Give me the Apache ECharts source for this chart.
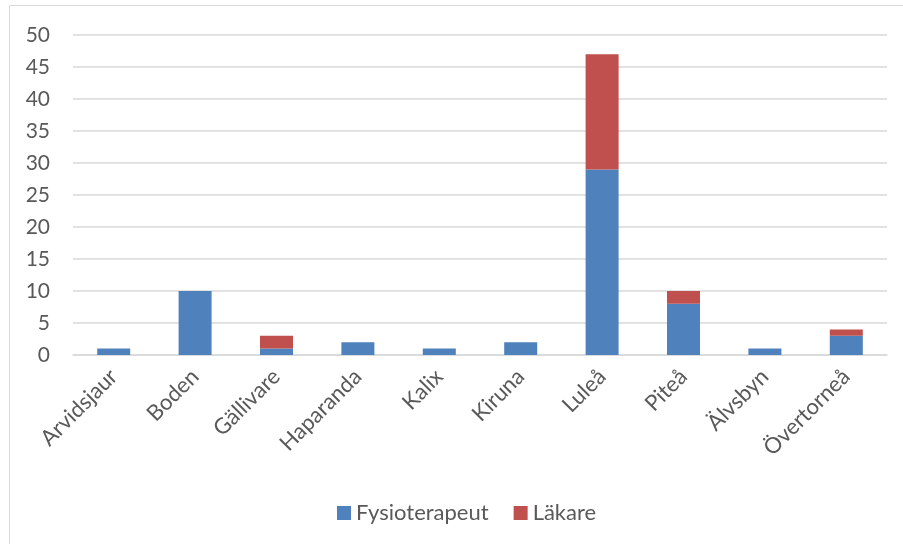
<!DOCTYPE html>
<html>
<head>
<meta charset="utf-8">
<script src="https://cdn.jsdelivr.net/npm/echarts@6/dist/echarts.min.js"></script>
<style>
  html, body { margin: 0; padding: 0; background: #fff; }
  #chart { width: 903px; height: 544px; }
</style>
</head>
<body>
<div id="chart"></div>
<script>
// Orter (kategorier) och antal per yrkesgrupp
const categories = ['Arvidsjaur', 'Boden', 'Gällivare', 'Haparanda', 'Kalix', 'Kiruna', 'Luleå', 'Piteå', 'Älvsbyn', 'Övertorneå'];
const fysioterapeut = [1, 10, 1, 2, 1, 2, 29, 8, 1, 3];
const lakare = [0, 0, 2, 0, 0, 0, 18, 2, 0, 1];
const seriesNames = ['Fysioterapeut', 'Läkare'];
const yTicks = { min: 0, max: 50, interval: 5 };

const FONT = 'Lato, "Open Sans", sans-serif';
const TEXT = '#595959';

const chart = echarts.init(document.getElementById('chart'), null, { renderer: 'canvas' });
chart.setOption({
  animation: false,
  backgroundColor: '#fff',
  textStyle: { fontFamily: FONT },
  graphic: [{
    type: 'rect',
    shape: { x: 9.5, y: 5.5, width: 1000, height: 1000 },
    style: { fill: 'none', stroke: '#d9d9d9', lineWidth: 1 },
    silent: true, z: -1
  }],
  grid: { left: 73, right: 16, top: 35, bottom: 189, containLabel: false },
  legend: {
    data: seriesNames,
    top: 497,
    left: 332,
    itemWidth: 14,
    itemHeight: 14,
    itemGap: 25,
    icon: 'rect',
    textStyle: { color: TEXT, fontSize: 22, fontFamily: FONT }
  },
  xAxis: {
    type: 'category',
    data: categories,
    axisLine: { lineStyle: { color: '#d9d9d9', width: 1.5 } },
    axisTick: { show: false },
    axisLabel: {
      rotate: 45,
      interval: 0,
      margin: 18,
      color: TEXT,
      fontSize: 22,
      fontFamily: FONT
    }
  },
  yAxis: {
    type: 'value',
    min: yTicks.min,
    max: yTicks.max,
    interval: yTicks.interval,
    axisLine: { show: false },
    axisTick: { show: false },
    splitLine: { lineStyle: { color: '#d9d9d9', width: 1.5 } },
    axisLabel: { color: TEXT, fontSize: 21, margin: 23, fontFamily: FONT }
  },
  series: [
    {
      name: seriesNames[0],
      type: 'bar',
      stack: 'total',
      barWidth: 33,
      data: fysioterapeut,
      itemStyle: { color: '#4f81bd' }
    },
    {
      name: seriesNames[1],
      type: 'bar',
      stack: 'total',
      barWidth: 33,
      data: lakare,
      itemStyle: { color: '#c0504d' }
    }
  ]
});
</script>
</body>
</html>
